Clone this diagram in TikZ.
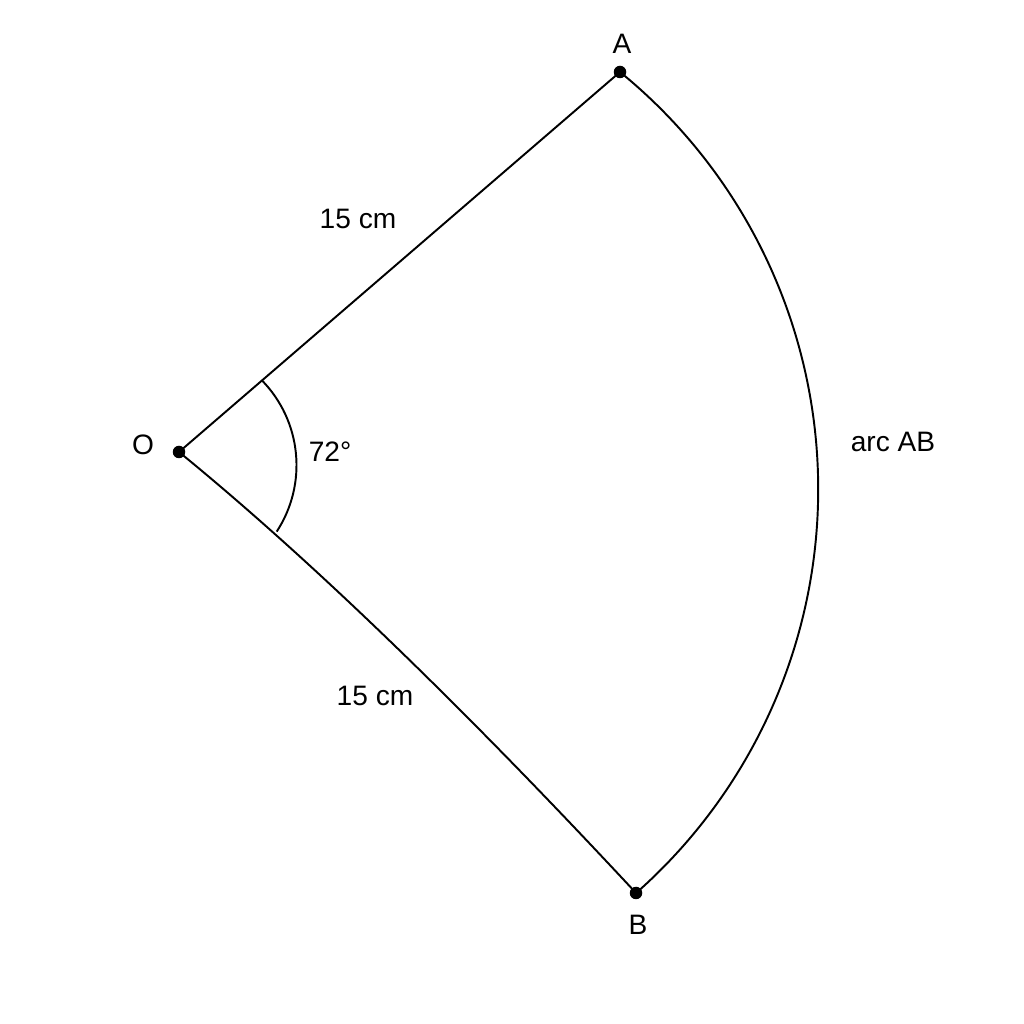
\documentclass[tikz,border=0pt]{standalone}
\usepackage{fontspec}
\setmainfont{Liberation Sans}
\usetikzlibrary{calc}
\begin{document}
\begin{tikzpicture}[x=0.02cm,y=0.02cm,
  ln/.style={line width=1.1pt},
  dot/.style={circle,fill=black,inner sep=0pt,minimum size=0.25cm},
  lbl/.style={font=\fontsize{16}{19}\selectfont,inner sep=0pt}]
\useasboundingbox (0,0) rectangle (1024,1024);
\fill[white] (0,0) rectangle (1024,1024);
\coordinate (O) at (179,572);
\coordinate (A) at (620,952);
\coordinate (B) at (636,131);
\coordinate (M) at (175.2,558.8);
\draw[ln] (O) -- (A);
\draw[ln] (O) .. controls (308.3,466.5) and (460.7,319.5) .. (B);
\draw[ln] (A) arc[start angle=50.8, end angle=-48.6, radius=538.6];
\draw[ln] ($(M)+(44.6:121.3)$) arc[start angle=44.6, end angle=-33.2, radius=121.3];
\node[dot] (Od) at (O) {};
\node[dot] (Ad) at (A) {};
\node[dot] (Bd) at (B) {};
\node[lbl] (lA) at (622,980) {A};
\node[lbl] (lB) at (638,99) {B};
\node[lbl] (lO) at (143,579) {O};
\node[lbl] (l1) at (358,805) {15 cm};
\node[lbl] (l2) at (375,328) {15 cm};
\node[lbl] (lang) at (330,572) {72°};
\node[lbl] (larc) at (893,582) {arc AB};
\end{tikzpicture}
\end{document}
